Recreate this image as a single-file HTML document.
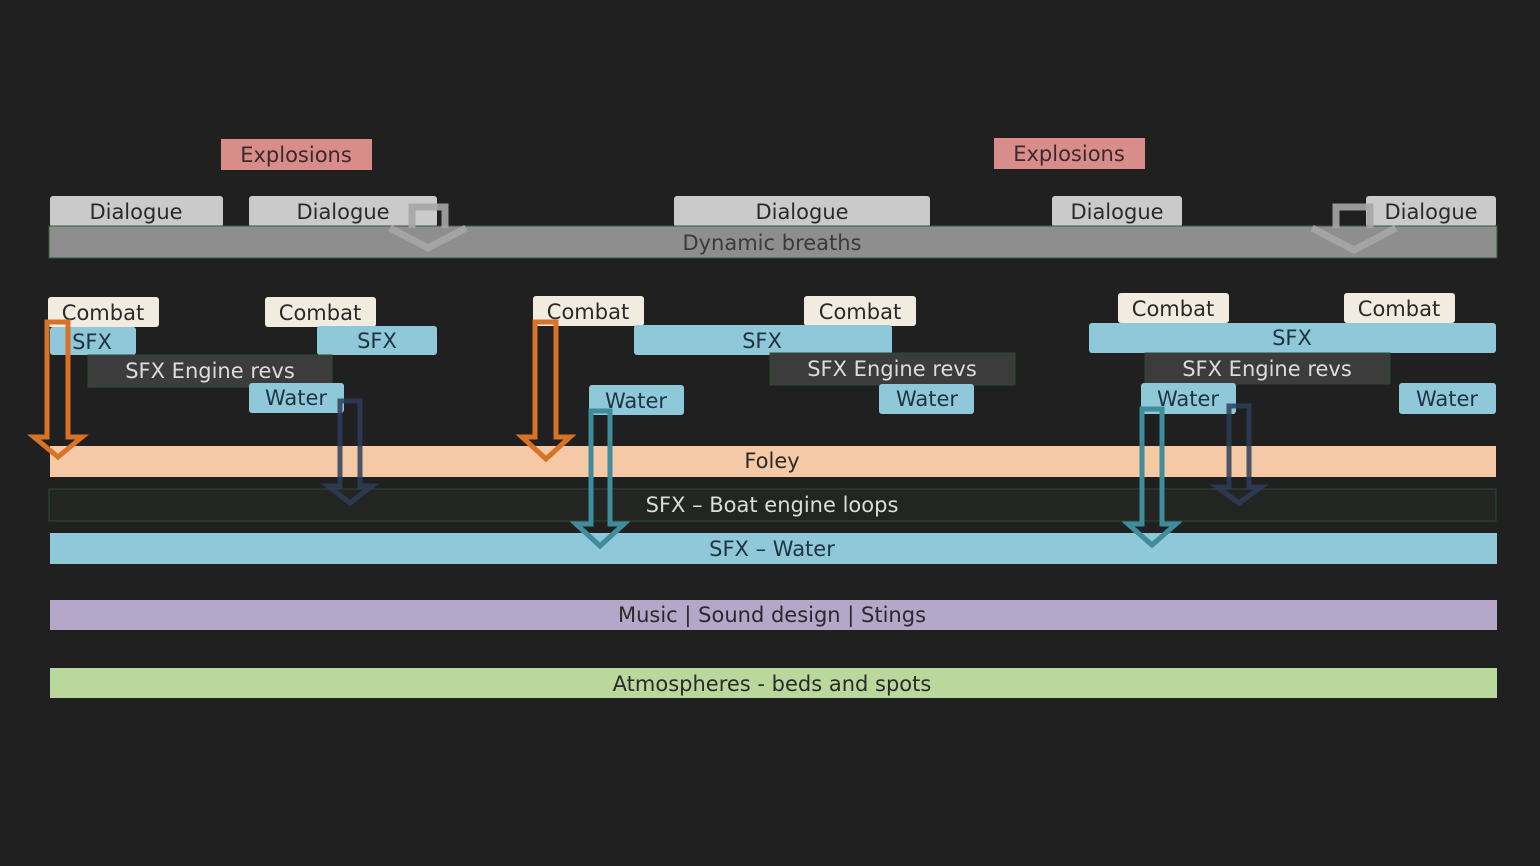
<!DOCTYPE html>
<html><head><meta charset="utf-8"><style>
html,body{margin:0;padding:0;background:#1f201f;}
svg{display:block}
text{font-family:"DejaVu Sans","Liberation Sans",sans-serif;font-size:21px;text-anchor:middle;dominant-baseline:central}
</style></head><body>
<svg width="1540" height="866" viewBox="0 0 1540 866">
<rect width="1540" height="866" fill="#1f201f"/>
<rect x="221" y="139" width="151" height="31" fill="#d98d8b"/><text x="296" y="155" fill="#3a2a2a">Explosions</text>
<rect x="994" y="138" width="151" height="31" fill="#d98d8b"/><text x="1069" y="154" fill="#3a2a2a">Explosions</text>
<g fill="#c9cac9">
<rect x="50" y="196" width="173" height="31" rx="3"/>
<rect x="249" y="196" width="188" height="31" rx="3"/>
<rect x="674" y="196" width="256" height="31" rx="3"/>
<rect x="1052" y="196" width="130" height="31" rx="3"/>
<rect x="1366" y="196" width="130" height="31" rx="3"/>
</g>
<g fill="#2a2a2a">
<text x="136" y="212">Dialogue</text><text x="343" y="212">Dialogue</text>
<text x="802" y="212">Dialogue</text><text x="1117" y="212">Dialogue</text><text x="1431" y="212">Dialogue</text>
</g>
<rect x="49" y="226" width="1448" height="32" fill="#8d8e8d" stroke="#3c5a3c" stroke-width="1"/>
<text x="772" y="243" fill="#3a3a3a">Dynamic breaths</text>
<g fill="none" stroke="#a5a6a5" stroke-width="7" opacity="0.9">
<path d="M412,228 V207 H445 V228 M390,228 L428,248 L466,228"/>
<path d="M1336,228 V207 H1370 V228 M1312,228 L1354,250 L1396,228"/>
</g>
<g fill="#f2ebe0">
<rect x="48" y="297" width="111" height="30" rx="3"/><rect x="265" y="297" width="111" height="30" rx="3"/>
<rect x="533" y="296" width="111" height="30" rx="3"/><rect x="804" y="296" width="112" height="30" rx="3"/>
<rect x="1118" y="293" width="111" height="30" rx="3"/><rect x="1344" y="293" width="111" height="30" rx="3"/>
</g>
<g fill="#2a2a2a">
<text x="103" y="313">Combat</text><text x="320" y="313">Combat</text><text x="588" y="312">Combat</text>
<text x="860" y="312">Combat</text><text x="1173" y="309">Combat</text><text x="1399" y="309">Combat</text>
</g>
<g fill="#8fc8d8">
<rect x="50" y="327" width="86" height="28" rx="3"/><rect x="317" y="326" width="120" height="29" rx="3"/>
<rect x="634" y="325" width="258" height="30" rx="3"/><rect x="1089" y="323" width="407" height="30" rx="3"/>
</g>
<g fill="#1f3440">
<text x="92" y="342">SFX</text><text x="377" y="341">SFX</text><text x="762" y="341">SFX</text><text x="1292" y="338">SFX</text>
</g>
<g fill="#3b3c3b" stroke="#2f4a33" stroke-width="1">
<rect x="88" y="355" width="244" height="32"/><rect x="770" y="353" width="245" height="32"/><rect x="1145" y="353" width="245" height="31"/>
</g>
<g fill="#dcdcdc">
<text x="210" y="371">SFX Engine revs</text><text x="892" y="369">SFX Engine revs</text><text x="1267" y="369">SFX Engine revs</text>
</g>
<g fill="#8fc8d8">
<rect x="249" y="383" width="95" height="30" rx="3"/><rect x="589" y="385" width="95" height="30" rx="3"/>
<rect x="879" y="384" width="95" height="30" rx="3"/><rect x="1141" y="383" width="95" height="31" rx="3"/>
<rect x="1399" y="383" width="97" height="31" rx="3"/>
</g>
<g fill="#1f3440">
<text x="296" y="398">Water</text><text x="636" y="401">Water</text><text x="927" y="399">Water</text>
<text x="1188" y="399">Water</text><text x="1447" y="399">Water</text>
</g>
<rect x="50" y="446" width="1446" height="31" fill="#f5c9a5"/>
<text x="772" y="461" fill="#2a2a2a">Foley</text>
<rect x="49" y="489" width="1447" height="32" fill="#232523" stroke="#2f4a33" stroke-width="1"/>
<text x="772" y="505" fill="#dcdcdc">SFX – Boat engine loops</text>
<rect x="50" y="533" width="1447" height="31" fill="#8fc8d8"/>
<text x="772" y="549" fill="#1f3440">SFX – Water</text>
<rect x="50" y="600" width="1447" height="30" fill="#b4a7c9"/>
<text x="772" y="615" fill="#2a2a2a">Music | Sound design | Stings</text>
<rect x="50" y="668" width="1447" height="30" fill="#bad89c"/>
<text x="772" y="684" fill="#2a2a2a">Atmospheres - beds and spots</text>
<g fill="none" stroke-width="5" stroke-linejoin="miter">
<path stroke="#d87226" d="M47,437 V322 H68 V437 H82 L58,457 L34,437 Z"/>
<path stroke="#d87226" d="M535,437 V322 H556 V437 H570 L546,459 L522,437 Z"/>
<path stroke="#3e8c9c" d="M591,524 V411 H610 V524 H624 L600,546 L576,524 Z"/>
<path stroke="#3e8c9c" d="M1142,524 V409 H1162 V524 H1176 L1152,545 L1128,524 Z"/>
<path stroke="#2d3e5a" opacity="0.85" d="M340,486 V401 H360 V486 H372 L350,503 L328,486 Z"/>
<path stroke="#2d3e5a" opacity="0.85" d="M1229,487 V406 H1249 V487 H1261 L1239,503 L1217,487 Z"/>
</g>
</svg>
</body></html>
